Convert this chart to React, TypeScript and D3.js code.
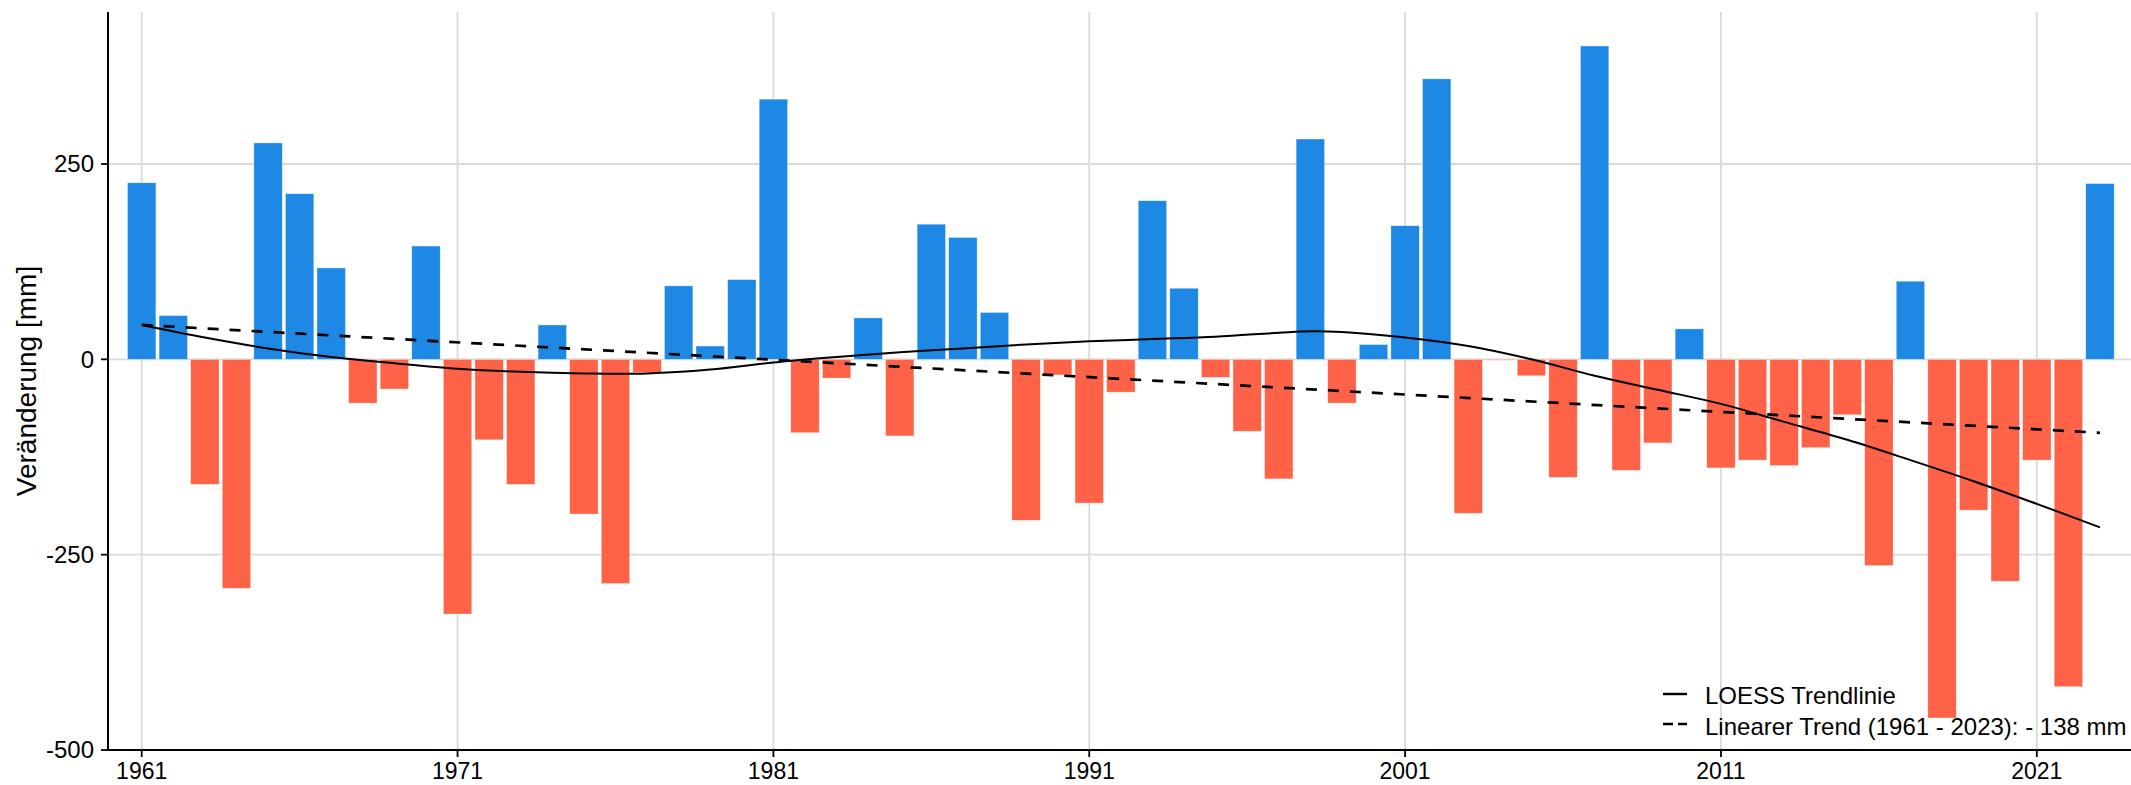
import React from "react";
import * as d3 from "d3";

const years: number[] = d3.range(1961, 2024);
const changes: number[] = [
  226, 56, -160, -293, 277, 212, 117, -56, -38, 145,
  -326, -103, -160, 44, -198, -287, -17, 94, 17, 102,
  333, -94, -24, 53, -98, 173, 156, 60, -206, -20,
  -184, -42, 203, 91, -23, -92, -153, 282, -56, 19,
  171, 359, -197, -1, -21, -151, 401, -142, -107, 39,
  -139, -129, -136, -113, -71, -264, 100, -459, -193, -284,
  -129, -419, 225,
];

const loessYears: number[] = [1961, 1963, 1965, 1967, 1969, 1971, 1973, 1975, 1977, 1979, 1981, 1983, 1985, 1987, 1989, 1991, 1993, 1995, 1997, 1998, 1999, 2001, 2003, 2005, 2007, 2009, 2011, 2013, 2015, 2017, 2019, 2021, 2023];
const loessValues: number[] = [44, 28, 14, 3, -5, -12, -16, -18, -18, -13, -4, 3, 9, 14, 19, 23, 26, 29, 34, 36, 35, 28, 17, 0, -21, -39, -57, -80, -103, -129, -156, -185, -215];

const trendYears: number[] = [1961, 2023];
const trendValues: number[] = [44, -94];

const xTicks: number[] = [1961, 1971, 1981, 1991, 2001, 2011, 2021];
const yTicks: number[] = [-500, -250, 0, 250];

const legendLabels: string[] = ["LOESS Trendlinie", "Linearer Trend (1961 - 2023): - 138 mm"];

const W = 2131;
const H = 785;
const FONT = "'Liberation Sans', Arial, sans-serif";

export default function App() {
  const plotLeft = 108;
  const plotRight = 2131;
  const plotTop = 12;
  const plotBottom = 750;

  const x = d3.scaleLinear().domain([1961, 2023]).range([141.7, 2099.97]);
  const step = x(1962) - x(1961);
  const barW = step * 0.9;
  const y = d3.scaleLinear().domain([-500, 250]).range([750, 164]);

  const loessLine = d3
    .line<number>()
    .x((_, i) => x(loessYears[i]))
    .y((d) => y(d))
    .curve(d3.curveCatmullRom.alpha(0.5));
  const trendLine = d3
    .line<number>()
    .x((_, i) => x(trendYears[i]))
    .y((d) => y(d));

  const gridColor = "#dadada";

  return (
    <svg
      width={W}
      height={H}
      viewBox={`0 0 ${W} ${H}`}
      style={{ position: "absolute", left: 0, top: 0, background: "#fff" }}
      fontFamily={FONT}
    >
      <rect x={0} y={0} width={W} height={H} fill="#fff" />
      {/* grid */}
      {yTicks.map((t) => (
        <line key={"gy" + t} x1={plotLeft} x2={plotRight} y1={y(t)} y2={y(t)} stroke={gridColor} strokeWidth={1.8} />
      ))}
      {xTicks.map((t) => (
        <line key={"gx" + t} x1={x(t)} x2={x(t)} y1={plotTop} y2={plotBottom} stroke={gridColor} strokeWidth={1.8} />
      ))}
      {/* bars */}
      {changes.map((v, i) => {
        const yr = years[i];
        const y0 = y(0);
        const yv = y(v);
        return (
          <rect
            key={"b" + yr}
            x={x(yr) - barW / 2}
            y={Math.min(y0, yv)}
            width={barW}
            height={Math.max(Math.abs(yv - y0), 0.5)}
            fill={v >= 0 ? "#1e88e5" : "#ff6347"}
            stroke="#ffffff"
            strokeOpacity={0.6}
            strokeWidth={0.6}
          />
        );
      })}
      {/* lines */}
      <path d={trendLine(trendValues) || ""} fill="none" stroke="#000" strokeWidth={2.7} strokeDasharray="11 11" />
      <path d={loessLine(loessValues) || ""} fill="none" stroke="#000" strokeWidth={2} />
      {/* axes */}
      <line x1={plotLeft} x2={plotLeft} y1={plotTop} y2={plotBottom + 1} stroke="#000" strokeWidth={2} />
      <line x1={plotLeft - 1} x2={plotRight} y1={plotBottom} y2={plotBottom} stroke="#000" strokeWidth={2} />
      {yTicks.map((t) => (
        <g key={"ty" + t}>
          <line x1={plotLeft - 7} x2={plotLeft} y1={y(t)} y2={y(t)} stroke="#000" strokeWidth={1.8} />
          <text x={94} y={y(t)} dy="0.35em" textAnchor="end" fontSize={24} fill="#000">
            {t}
          </text>
        </g>
      ))}
      {xTicks.map((t) => (
        <g key={"tx" + t}>
          <line x1={x(t)} x2={x(t)} y1={plotBottom} y2={plotBottom + 7} stroke="#000" strokeWidth={1.8} />
          <text x={x(t)} y={779} textAnchor="middle" fontSize={23} fill="#000">
            {t}
          </text>
        </g>
      ))}
      <text
        transform={`translate(36, ${(plotTop + plotBottom) / 2}) rotate(-90)`}
        textAnchor="middle"
        fontSize={28}
        fill="#000"
      >
        Veränderung [mm]
      </text>
      {/* legend */}
      <line x1={1663} x2={1687} y1={694} y2={694} stroke="#000" strokeWidth={2.4} />
      <line x1={1663} x2={1687} y1={724} y2={724} stroke="#000" strokeWidth={2.4} strokeDasharray="10 5" />
      <text x={1705} y={703.5} fontSize={24} fill="#000">
        {legendLabels[0]}
      </text>
      <text x={1705} y={735} fontSize={24} fill="#000">
        {legendLabels[1]}
      </text>
    </svg>
  );
}
